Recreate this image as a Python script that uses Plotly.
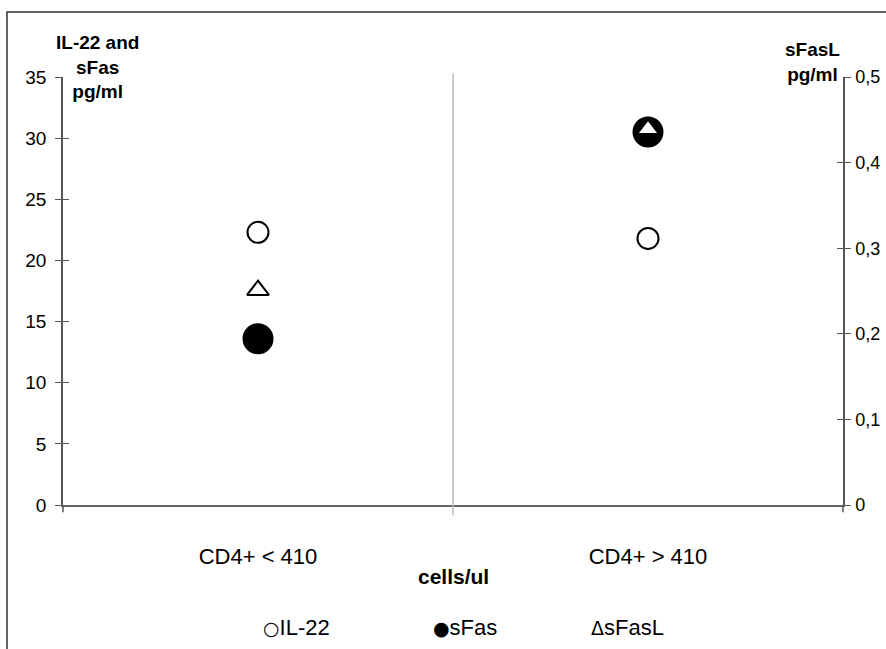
import plotly.graph_objects as go

categories = ["CD4+ < 410", "CD4+ > 410"]
il22 = [22.3, 21.8]
sfas = [13.6, 30.5]
sfasl = [0.251, 0.439]

left_ticks = [0, 5, 10, 15, 20, 25, 30, 35]
right_ticks = [0, 0.1, 0.2, 0.3, 0.4, 0.5]
right_tick_text = ["0", "0,1", "0,2", "0,3", "0,4", "0,5"]

FONT = "Liberation Sans, Arial, sans-serif"
AX = "#555555"
xi = list(range(len(categories)))

fig = go.Figure()
fig.add_trace(go.Scatter(x=xi, y=sfas, mode="markers", name="sFas", showlegend=False,
                         marker=dict(symbol="circle", size=31, color="black")))
fig.add_trace(go.Scatter(x=xi, y=il22, mode="markers", name="IL-22", showlegend=False,
                         marker=dict(symbol="circle", size=21, color="white",
                                     line=dict(color="black", width=2))))
fig.add_trace(go.Scatter(x=xi, y=sfasl, mode="markers", name="sFasL", showlegend=False, yaxis="y2",
                         marker=dict(symbol="triangle-up", size=19, color="white",
                                     line=dict(color="black", width=2))))
# invisible copies bound to the helper axes that carry the inner half of the crossing ticks
fig.add_trace(go.Scatter(x=xi, y=il22, yaxis="y3", mode="markers", showlegend=False,
                         hoverinfo="skip", marker=dict(opacity=0)))
fig.add_trace(go.Scatter(x=xi, y=sfasl, yaxis="y4", mode="markers", showlegend=False,
                         hoverinfo="skip", marker=dict(opacity=0)))

common_y = dict(showgrid=False, zeroline=False, fixedrange=True, automargin=False)
fig.update_layout(
    width=886, height=649,
    paper_bgcolor="white", plot_bgcolor="white",
    margin=dict(l=63, r=43, t=77, b=144, autoexpand=False),
    font=dict(family=FONT, size=19, color="black"),
    showlegend=False,
    hovermode=False,
    xaxis=dict(range=[-0.5, 1.5], tickmode="array", tickvals=xi, ticktext=categories,
               showgrid=False, zeroline=False, showline=True, linecolor="#666666", linewidth=2,
               ticks="", tickfont=dict(size=22), ticklabelstandoff=31, fixedrange=True,
               automargin=False),
    yaxis=dict(range=[0, 35], tickvals=left_ticks, showline=True, linecolor=AX, linewidth=1.5,
               ticks="outside", ticklen=6, tickcolor=AX, tickwidth=1.2,
               tickfont=dict(size=19), ticklabelstandoff=5, **common_y),
    yaxis3=dict(range=[0, 35], tickvals=left_ticks, overlaying="y", side="left",
                showline=False, ticks="inside", ticklen=6, tickcolor=AX, tickwidth=1.2,
                showticklabels=False, **common_y),
    yaxis2=dict(range=[0, 0.5], tickvals=right_ticks, ticktext=right_tick_text,
                overlaying="y", side="right", showline=True, linecolor=AX, linewidth=1.5,
                ticks="outside", ticklen=6, tickcolor=AX, tickwidth=1.2,
                tickfont=dict(size=18), ticklabelstandoff=1, **common_y),
    yaxis4=dict(range=[0, 0.5], tickvals=right_ticks, overlaying="y", side="right",
                showline=False, ticks="inside", ticklen=6, tickcolor=AX, tickwidth=1.2,
                showticklabels=False, **common_y),
)

shapes = [
    # outer frame
    dict(type="rect", xref="paper", yref="paper", x0=-0.0718, x1=1.2, y0=-0.5, y1=1.152,
         line=dict(color="#333333", width=1.5), fillcolor="rgba(0,0,0,0)", layer="below"),
    # category divider
    dict(type="line", xref="x", yref="paper", x0=0.5, x1=0.5, y0=-0.024, y1=1.008,
         line=dict(color="#bbbbbb", width=1.5)),
    # ticks at ends of x axis
    dict(type="line", xref="paper", yref="paper", x0=0, x1=0, y0=-0.017, y1=0,
         line=dict(color=AX, width=1.5)),
    dict(type="line", xref="paper", yref="paper", x0=1, x1=1, y0=-0.017, y1=0,
         line=dict(color=AX, width=1.5)),
]
fig.update_layout(shapes=shapes)

fig.add_annotation(text="<b>IL-22 and<br>sFas<br>pg/ml</b>", xref="paper", yref="paper",
                   x=0.0436, y=1.023, xanchor="center", yanchor="middle", showarrow=False,
                   font=dict(size=19), align="center")
fig.add_annotation(text="<b>sFasL<br>pg/ml</b>", xref="paper", yref="paper",
                   x=1.0, y=1.035, xshift=-1, xanchor="right", yanchor="middle", showarrow=False,
                   font=dict(size=19), align="center")
fig.add_annotation(text="<b>cells/ul</b>", xref="x", yref="paper",
                   x=0.5, y=-0.168, yanchor="middle", showarrow=False, font=dict(size=21))

# legend drawn as text (symbol glyph followed directly by the series name)
legend_items = [("○", "IL-22", 261), ("●", "sFas", 431), ("Δ", "sFasL", 589)]
for sym, name, px in legend_items:
    fig.add_annotation(text=f'<span style="font-family:DejaVu Sans;font-size:19px">{sym}</span>{name}',
                       xref="paper", yref="paper", x=(px - 63) / 780, y=(505 - 627) / 428,
                       xanchor="left", yanchor="middle", showarrow=False, font=dict(size=22))

fig.write_html("out.html", config={"displayModeBar": False},
               post_script="document.body.style.margin='0';")
